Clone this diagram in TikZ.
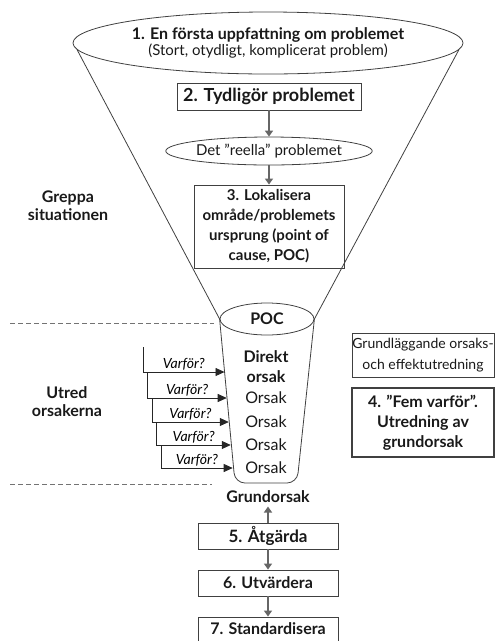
\documentclass[tikz,border=0pt]{standalone}
\usepackage{fontspec}
\setmainfont{Lato}
\usetikzlibrary{arrows.meta,positioning,shapes.geometric}

\begin{document}
\begin{tikzpicture}[
    x=1pt, y=-1pt,
    stage/.style={draw=black!75, line width=0.9pt, rectangle, align=center, inner sep=2pt, text=black!90, font=\fontsize{16}{20}\selectfont\bfseries},
    oval/.style={draw=black!75, line width=0.8pt, ellipse, align=center, inner sep=0pt, text=black!90},
    funnel/.style={draw=black!75, line width=0.8pt},
    flow/.style={-{Triangle[length=6pt,width=8pt]}, line width=2pt, draw=black!60},
    why/.style={-{Triangle[length=9pt,width=8pt]}, line width=0.8pt, draw=black!85},
    sep/.style={dash pattern=on 5pt off 3pt, draw=black!55, line width=0.9pt},
    cell/.style={text=black!90, font=\fontsize{16}{20}\selectfont},
    side/.style={align=center, text=black!90, font=\fontsize{16}{18}\selectfont\bfseries},
  ]
  \useasboundingbox (0,0) rectangle (495,641);

  % Funnel top
  \node[oval, minimum width=390pt, minimum height=62pt] (first) at (268,43)
    {{\fontsize{16}{18}\selectfont\bfseries 1. En första uppfattning om problemet}\\[0pt]
     {\fontsize{15}{18}\selectfont (Stort, otydligt, komplicerat problem)}};
  \node[stage, minimum width=184pt, minimum height=27pt, font=\fontsize{18}{20}\selectfont\bfseries] (clarify) at (269,96.5) {2. Tydligör problemet};
  \node[oval, minimum width=200pt, minimum height=28pt, font=\fontsize{15}{17}\selectfont] (real) at (269,151) {Det "reella" problemet};
  \node[stage, minimum width=150pt, minimum height=83pt, font=\fontsize{15}{20}\selectfont\bfseries] (locate) at (269,226.5)
    {3. Lokalisera\\område/problemets\\ursprung (point of\\cause, POC)};
  \node[oval, minimum width=94pt, minimum height=32pt, font=\fontsize{16}{18}\selectfont\bfseries] (poc) at (267,319) {POC};

  \draw[funnel] (first.182) -- (poc.west);
  \draw[funnel] (first.358) -- (poc.east);

  \draw[flow] (clarify) -- (real);
  \draw[flow] (real) -- (locate);

  % Cup with the causes
  \coordinate (cupL) at (235,483);
  \coordinate (cupR) at (297,483);
  \draw[funnel, rounded corners=10pt] (poc.west) -- (cupL) -- (cupR) -- (poc.east);

  \node[cell, align=center, font=\fontsize{16}{20}\selectfont\bfseries] (direct) at (266,367) {Direkt\\orsak};
  \foreach \y [count=\i] in {398,422,445,468}
    \node[cell] (cause\i) at (266,\y) {Orsak};

  % Five whys
  \foreach \ya/\yb [count=\i] in {347/372, 372/398, 398/422, 422/445, 445/468} {
    \pgfmathsetmacro\xs{143+4.5*(\i-1)}
    \pgfmathsetmacro\xw{220+14*(\yb-319)/164}
    \coordinate (s\i) at (\xs,\ya);
    \coordinate (w\i) at (\xw,\yb);
    \draw[why] (s\i) |- (w\i)
      node[pos=0.75, above=-2pt, font=\fontsize{14}{16}\selectfont\itshape] (q\i) {Varför?};
  }

  % Dashed separators
  \coordinate (d1a) at (10,323);
  \coordinate (d1b) at (214,323);
  \coordinate (d2a) at (10,484);
  \coordinate (d2b) at (212,484);
  \draw[sep] (d1a) -- (d1b);
  \draw[sep] (d2a) -- (d2b);

  % Side labels
  \node[side] (grasp) at (68,206) {Greppa\\situationen};
  \node[side] (probe) at (67,402) {Utred\\orsakerna};

  \node[stage, minimum width=142pt, minimum height=44pt, inner sep=0pt, font=\fontsize{14}{21}\selectfont] (basic) at (423,355)
    {Grundläggande orsaks-\\och effektutredning};
  \node[stage, line width=1.5pt, minimum width=142pt, minimum height=69pt, font=\fontsize{16}{20}\selectfont\bfseries] (five) at (423,422.5)
    {4. ''Fem varför''.\\Utredning av\\grundorsak};

  % Root cause and follow-up
  \node[font=\fontsize{16}{18}\selectfont\bfseries, text=black!90] (root) at (268,497) {Grundorsak};
  \node[stage, minimum width=140pt, minimum height=26pt, font=\fontsize{17}{19}\selectfont\bfseries] (act) at (268,536) {5. Åtgärda};
  \node[stage, minimum width=140pt, minimum height=26pt] (check) at (268,583) {6. Utvärdera};
  \node[stage, minimum width=140pt, minimum height=24pt] (std) at (268,629) {7. Standardisera};

  \draw[flow] (act) -- (root);
  \draw[flow] (act) -- (check);
  \draw[flow] (check) -- (std);
\end{tikzpicture}
\end{document}
